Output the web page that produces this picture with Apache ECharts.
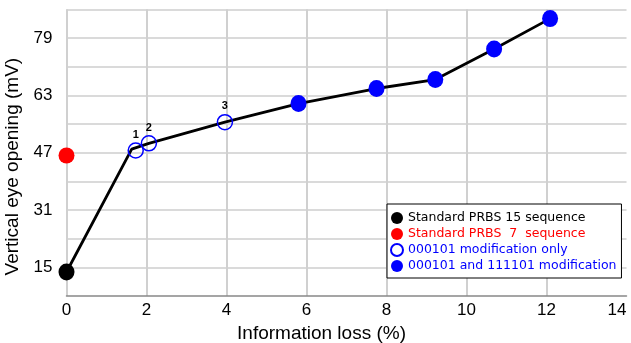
<!DOCTYPE html>
<html>
<head>
<meta charset="utf-8">
<script src="https://cdn.jsdelivr.net/npm/echarts@6/dist/echarts.min.js"></script>
<style>html,body{margin:0;padding:0;background:#fff;}#c{width:631px;height:343px;}</style>
</head>
<body>
<div id="c"></div>
<script>
// Connecting trend line
const lineX = [0, 1.63, 2.06, 3.96, 5.8, 7.75, 9.22, 10.69, 12.09];
const lineY = [13.7, 48.0, 49.6, 55.5, 60.7, 64.9, 67.4, 75.9, 84.4];
// Standard PRBS 15
const prbs15X = [0];
const prbs15Y = [13.7];
// Standard PRBS 7
const prbs7X = [0];
const prbs7Y = [46.2];
// 000101 modification only
const modOnlyX = [1.73, 2.06, 3.96];
const modOnlyY = [47.6, 49.6, 55.5];
const modOnlyLabels = ['1', '2', '3'];
// 000101 and 111101 modification
const modBothX = [5.8, 7.75, 9.22, 10.69, 12.09];
const modBothY = [60.7, 64.9, 67.4, 75.9, 84.4];
// axis ticks
const xTickLabels = [0, 2, 4, 6, 8, 10, 12, 14];
const xGridValues = [0, 2, 4, 6, 8, 10, 12];
const yTickLabels = [15, 31, 47, 63, 79];
const yGridValues = [15, 23, 31, 39, 47, 55, 63, 71, 79, 87];

const names = ['Standard PRBS 15 sequence', 'Standard PRBS  7  sequence', '000101 modification only', '000101 and 111101 modification'];
const zip = (a, b) => a.map((v, i) => [v, b[i]]);

const chart = echarts.init(document.getElementById('c'));
chart.setOption({
  animation: false,
  backgroundColor: '#fff',
  grid: { left: 66.5, right: 4.5, top: 9.3, bottom: 47, containLabel: false, outerBoundsMode: 'none' },
  xAxis: {
    type: 'value', min: 0, max: 14,
    name: 'Information loss (%)', nameLocation: 'middle', nameGap: 22,
    nameTextStyle: { fontFamily: 'Liberation Sans', fontSize: 19, color: '#000', padding: [0, 50, 0, 0] },
    axisLine: { show: true, lineStyle: { color: '#888', width: 1.5 } },
    axisTick: { show: false, customValues: xGridValues },
    axisLabel: { customValues: xTickLabels, fontFamily: 'Liberation Sans', fontSize: 17, color: '#000', margin: 6, hideOverlap: false, alignMaxLabel: 'right' },
    splitLine: { show: true, lineStyle: { color: '#d0d0d0', width: 2 } }
  },
  yAxis: {
    type: 'value', min: 7, max: 87,
    name: 'Vertical eye opening (mV)', nameLocation: 'middle', nameGap: 39,
    nameTextStyle: { fontFamily: 'Liberation Sans', fontSize: 19, color: '#000', padding: [0, 28, 0, 0] },
    axisLine: { show: false },
    axisTick: { show: false, customValues: yGridValues },
    axisLabel: { customValues: yTickLabels, fontFamily: 'Liberation Sans', fontSize: 17, color: '#000', margin: 14 },
    splitLine: { show: true, lineStyle: { color: '#dadada', width: 2 } }
  },
  legend: {
    orient: 'vertical', left: 387, top: 204,
    backgroundColor: '#fff', borderColor: '#000', borderWidth: 1,
    padding: [7, 5, 5, 3], itemGap: 2, itemWidth: 12, itemHeight: 12,
    textStyle: { fontFamily: 'DejaVu Sans', fontSize: 12.5, lineHeight: 14 },
    data: [
      { name: names[0], textStyle: { color: '#000' } },
      { name: names[1], textStyle: { color: '#ff0000' } },
      { name: names[2], textStyle: { color: '#0000ff' } },
      { name: names[3], textStyle: { color: '#0000ff' } }
    ]
  },
  series: [
    {
      type: 'line', name: 'trend', data: zip(lineX, lineY), symbol: 'none',
      lineStyle: { color: '#000', width: 2.8 }, z: 1, silent: true
    },
    {
      type: 'scatter', name: names[0], data: zip(prbs15X, prbs15Y),
      symbol: 'circle', symbolSize: [16, 17], itemStyle: { color: '#000', opacity: 1 }, z: 3
    },
    {
      type: 'scatter', name: names[1], data: zip(prbs7X, prbs7Y),
      symbol: 'circle', symbolSize: 16, itemStyle: { color: '#ff0000', opacity: 1 }, z: 3
    },
    {
      type: 'scatter', name: names[2], data: zip(modOnlyX, modOnlyY),
      symbol: 'circle', symbolSize: 15,
      itemStyle: { color: 'rgba(255,255,255,0)', borderColor: '#0000ff', borderWidth: 1.5, opacity: 1 }, z: 3,
      label: {
        show: true, position: 'top', distance: 2,
        formatter: p => modOnlyLabels[p.dataIndex],
        fontFamily: 'Liberation Sans', fontSize: 11, fontWeight: 'bold', color: '#000'
      }
    },
    {
      type: 'scatter', name: names[3], data: zip(modBothX, modBothY),
      symbol: 'circle', symbolSize: [16, 17], itemStyle: { color: '#0000ff', opacity: 1 }, z: 3
    }
  ]
});
</script>
</body>
</html>
